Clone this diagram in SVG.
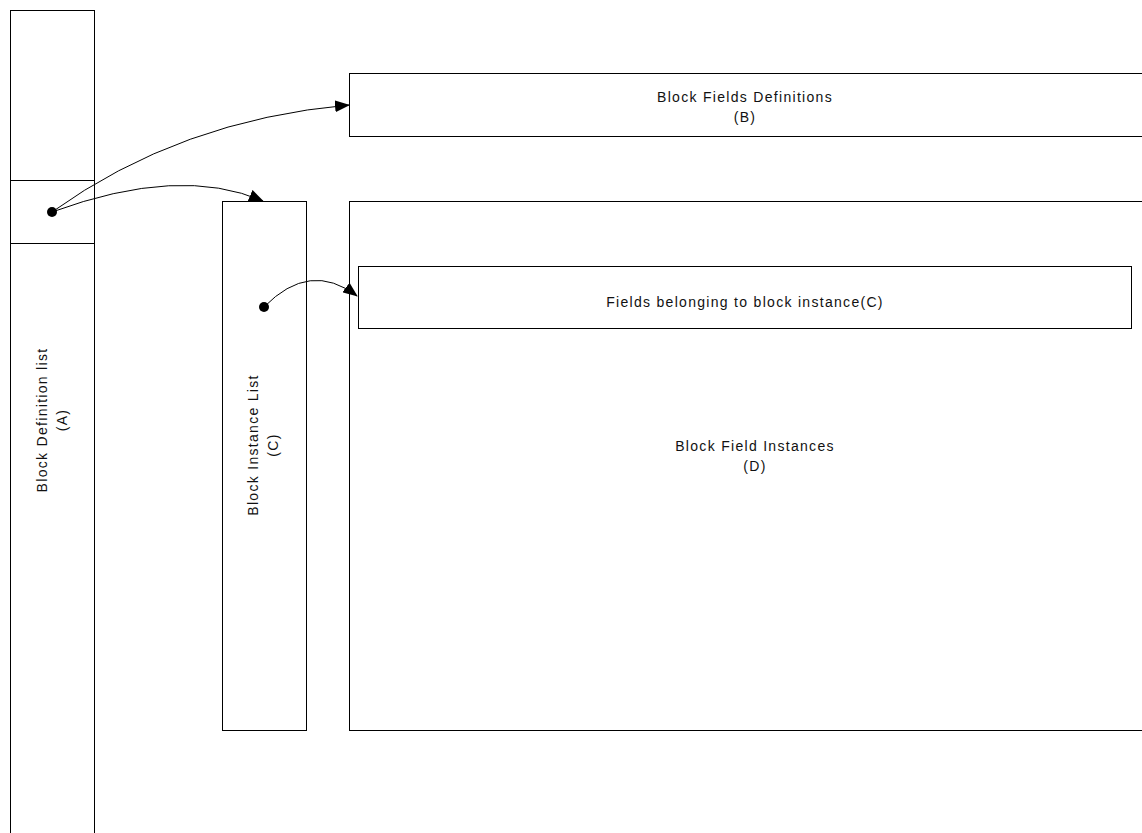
<svg xmlns="http://www.w3.org/2000/svg" width="1142" height="833" viewBox="0 0 1142 833">
<defs>
<style>
.box{fill:#fff;stroke:#000;stroke-width:1}
.t{font-family:"Liberation Sans",Arial,sans-serif;font-size:14px;letter-spacing:1.3px;fill:#111;text-anchor:middle}
.c{fill:none;stroke:#000;stroke-width:1}
</style>
<marker id="ah" markerWidth="15" markerHeight="12" refX="14" refY="6" orient="auto" markerUnits="userSpaceOnUse">
<path d="M0,0 L15,6 L0,12 z" fill="#000"/>
</marker>
</defs>
<rect width="1142" height="833" fill="#fff"/>
<g id="nodeA">
<rect class="box" x="10.5" y="10.5" width="84" height="840"/>
<rect class="box" x="10.5" y="180.5" width="84" height="63"/>
<text class="t" transform="translate(47,420) rotate(-90)">Block Definition list</text>
<text class="t" transform="translate(67,420) rotate(-90)">(A)</text>
</g>
<g id="nodeB">
<rect class="box" x="349.5" y="73.5" width="800" height="63"/>
<text class="t" x="745" y="102">Block Fields Definitions</text>
<text class="t" x="745" y="122">(B)</text>
</g>
<g id="nodeC">
<rect class="box" x="222.5" y="201.5" width="84" height="529"/>
<text class="t" transform="translate(258,445) rotate(-90)">Block Instance List</text>
<text class="t" transform="translate(278,445) rotate(-90)">(C)</text>
</g>
<g id="nodeD">
<rect class="box" x="349.5" y="201.5" width="800" height="529"/>
<text class="t" x="755" y="451">Block Field Instances</text>
<text class="t" x="755" y="471">(D)</text>
</g>
<g id="nodeE">
<rect class="box" x="358.5" y="266.5" width="773" height="62"/>
<text class="t" x="745" y="307">Fields belonging to block instance(C)</text>
</g>
<g id="connectors">
<circle cx="52" cy="212" r="5" fill="#000"/>
<circle cx="264" cy="307" r="5" fill="#000"/>
<path class="c" d="M52,212 Q180,120 349,105" marker-end="url(#ah)"/>
<path class="c" d="M52,212 Q180,165 263,201" marker-end="url(#ah)"/>
<path class="c" d="M264,307 Q310,260 357,296" marker-end="url(#ah)"/>
</g>
</svg>
